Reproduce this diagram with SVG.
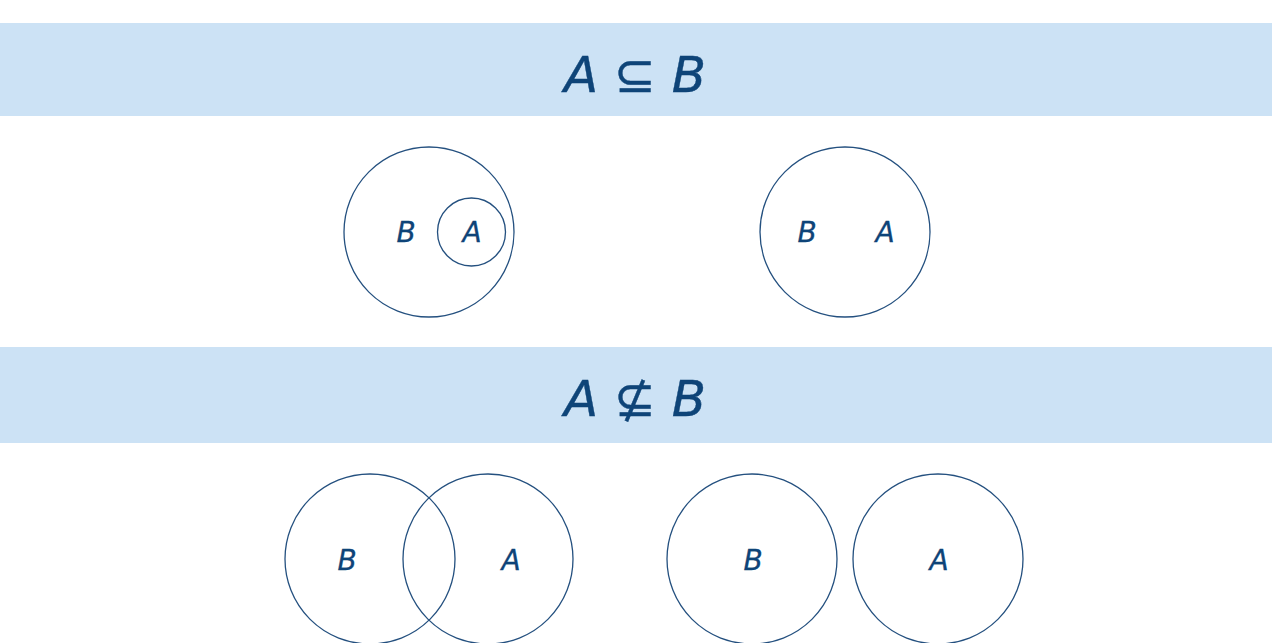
<svg xmlns="http://www.w3.org/2000/svg" width="1281" height="643" viewBox="0 0 1281 643">
<style>
.band{fill:#cce2f5}
.c{fill:none;stroke:#24507f;stroke-width:1.3}
.lbl{font-family:"DejaVu Sans",sans-serif;font-style:italic;font-size:28px;fill:#0e4478;text-anchor:middle;stroke:#0e4478;stroke-width:0.3}
.hd{font-family:"DejaVu Sans",sans-serif;font-size:50px;fill:#0e4478;text-anchor:middle;stroke:#0e4478;stroke-width:0.4}
.it{font-style:italic}
</style>
<rect width="1281" height="643" fill="#ffffff"/>
<g id="header1">
<rect class="band" x="0" y="23" width="1272" height="93"/>
<text class="hd" x="635" y="92"><tspan class="it">A</tspan> ⊆ <tspan class="it">B</tspan></text>
</g>
<g id="header2">
<rect class="band" x="0" y="347" width="1272" height="96"/>
<text class="hd" x="635" y="416"><tspan class="it">A</tspan> ⊈ <tspan class="it">B</tspan></text>
</g>
<g id="diagram1">
<circle class="c" cx="429" cy="232" r="85"/>
<circle class="c" cx="471.5" cy="232" r="34"/>
<text class="lbl" x="406" y="242">B</text>
<text class="lbl" x="472" y="242">A</text>
</g>
<g id="diagram2">
<circle class="c" cx="845" cy="232" r="85"/>
<text class="lbl" x="807" y="242">B</text>
<text class="lbl" x="885" y="242">A</text>
</g>
<g id="diagram3">
<circle class="c" cx="370" cy="559" r="85"/>
<circle class="c" cx="488" cy="559" r="85"/>
<text class="lbl" x="347" y="570">B</text>
<text class="lbl" x="511" y="570">A</text>
</g>
<g id="diagram4">
<circle class="c" cx="752" cy="559" r="85"/>
<circle class="c" cx="938" cy="559" r="85"/>
<text class="lbl" x="753" y="570">B</text>
<text class="lbl" x="939" y="570">A</text>
</g>
<g id="connectors"></g>
</svg>
